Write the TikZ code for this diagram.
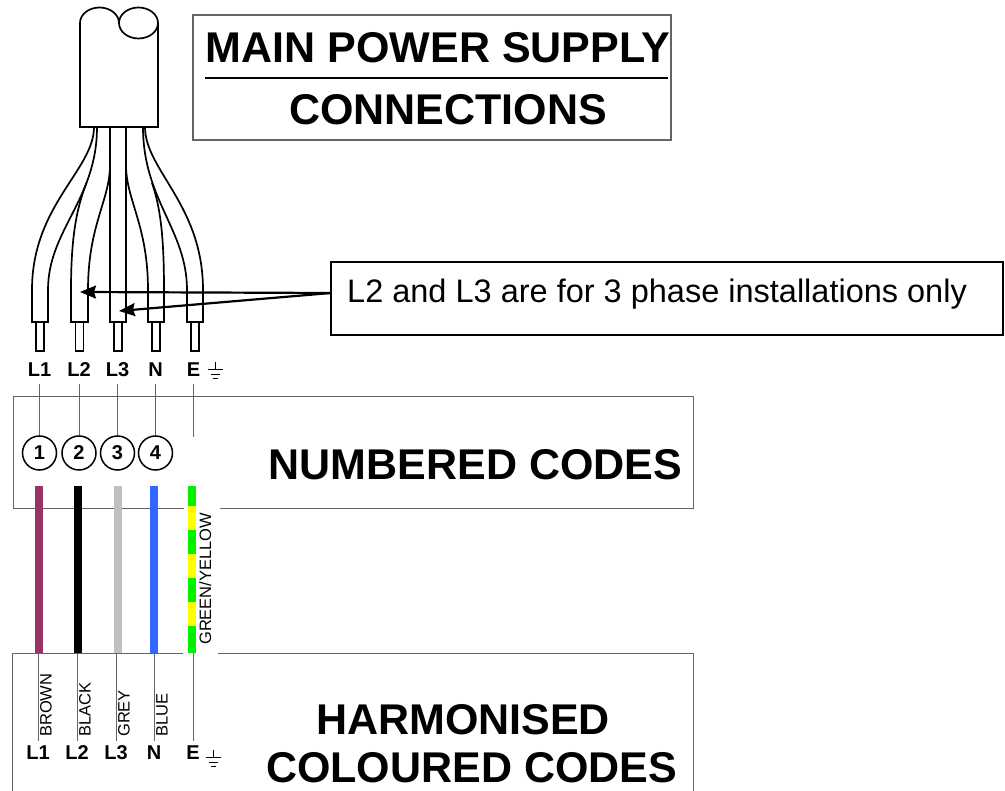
\documentclass[tikz,border=0pt]{standalone}
\usepackage{fontspec}
\setmainfont{Liberation Sans}
\usetikzlibrary{arrows.meta}

\definecolor{wirebrown}{RGB}{153,51,102}
\definecolor{wireblue}{RGB}{51,102,255}
\definecolor{wiregrey}{RGB}{192,192,192}
\definecolor{wiregreen}{RGB}{0,240,0}
\definecolor{wireyellow}{RGB}{255,255,0}
\definecolor{framegrey}{RGB}{100,100,100}

\newcommand\headfont{\fontsize{43}{43}\selectfont\bfseries}
\newcommand\termfont{\fontsize{20}{20}\selectfont\bfseries}
\newcommand\tagfont{\fontsize{16.5}{16.5}\selectfont}
\newcommand\notefont{\fontsize{32.5}{32.5}\selectfont}

\tikzset{
  cable/.style={line width=1.7pt},
  leader/.style={framegrey,line width=0.9pt},
  frameline/.style={framegrey,line width=1pt},
  pointer/.style={line width=2.2pt,-{Stealth[length=16pt,width=13pt,inset=2pt]}},
  termlabel/.style={inner sep=0pt,font=\termfont},
  headline/.style={anchor=base,inner sep=0pt,font=\headfont},
  colourtag/.style={rotate=90,anchor=north west,inner sep=0pt,font=\tagfont},
  numcircle/.style={circle,draw,line width=1.5pt,minimum size=34pt,inner sep=0pt,font=\termfont},
  earthmark/.pic={
    \draw[line width=0.9pt] (0,0) -- (0,7) (-7.5,7) -- (7.5,7)
      (-4.5,12) -- (4.5,12) (-2.5,16) -- (2.5,16);
  }
}

\begin{document}
\begin{tikzpicture}[x=1pt,y=-1pt]
       \useasboundingbox (0,0) rectangle (1005,791);
       % plug and cable
       \draw[cable] (158,23) -- (158,127) -- (80,127) -- (80,23)
         arc[start angle=180,end angle=0,x radius=19.5pt,y radius=15.5pt];
       \draw[cable] (138.5,23) ellipse[x radius=19.5pt,y radius=15.5pt];
       \draw[cable] (94,127) .. controls (94,170) and (32,205) .. (32,290)
         -- (32,322) -- (48,322) -- (48,290) .. controls (48,230) and (97,200) .. (97,127);
       \draw[cable] (86.5,183) .. controls (76,209) and (71,240) .. (71,290)
         -- (71,322) -- (88,322) -- (88,290) .. controls (88,225) and (110,200) .. (110,165);
       \draw[cable] (110,127) -- (110,322) -- (126,322) -- (126,127);
       \draw[cable] (126,165) .. controls (126,200) and (148,225) .. (148,290)
         -- (148,322) -- (164,322) -- (164,290) .. controls (164,240) and (161,209) .. (152,183);
       \draw[cable] (143,127) .. controls (143,200) and (187,230) .. (187,290)
         -- (187,322) -- (203,322) -- (203,290) .. controls (203,205) and (145,170) .. (145,127);
       \foreach \x in {40,79.5,118,156,195}
         \draw[line width=1.3pt] (\x-4,322) rectangle (\x+4,351);

       % heading
       \draw[framegrey,line width=1.5pt] (193,15) rectangle (671,140);
       \node[headline] (mainhead) at (438,63) {MAIN POWER SUPPLY};
       \node[headline] (conhead) at (448,125) {CONNECTIONS};
       \draw[line width=1.2pt] (205,78) -- (668,78);

       % note
       \draw[line width=1.8pt] (331,262) rectangle (1003,335);
       \node[anchor=base west,inner sep=0pt,font=\notefont] (notetext) at (347,303)
         {L2 and L3 are for 3 phase installations only};
       \coordinate (fork) at (331,293);
       \coordinate (l2tip) at (80,292);
       \coordinate (l3tip) at (119,311);

       % numbered codes
       \draw[frameline] (184,509) -- (13,509) -- (13,397) -- (693,397) -- (693,509) -- (220,509);
       \foreach \x/\lab/\num [count=\i] in {39.5/L1/1, 79/L2/2, 117.5/L3/3, 155.5/N/4} {
         \node[termlabel] (top\i) at (\x,370) {\lab};
         \node[numcircle] (num\i) at (\x,453) {\num};
         \draw[leader] ([yshift=-7pt]top\i.south) -- (num\i);
       }
       \node[termlabel] (top5) at (193.5,370) {E};
       \coordinate (eend) at (193.5,437);
       \draw[leader] ([yshift=-7pt]top5.south) -- (eend);
       \pic at (215,362) {earthmark};
       \node[headline] (numhead) at (475.5,480) {NUMBERED CODES};

       % coloured conductors
       \fill[wirebrown] (35,486) rectangle (43,653);
       \fill[black] (74,486) rectangle (82,653);
       \fill[wiregrey] (114,486) rectangle (122,653);
       \fill[wireblue] (150,486) rectangle (158,653);
       \fill[wiregreen] (188,486) rectangle (196,653);
       \foreach \y in {506,554,602}
         \fill[wireyellow] (188,\y) rectangle (196,\y+24);
       \node[colourtag] (gytag) at (199,645) {GREEN/YELLOW};

       % harmonised codes
       \draw[frameline] (12,791) -- (12,653) -- (183,653);
       \draw[frameline] (218,653) -- (693,653) -- (693,791);
       \foreach \x/\tag/\lab [count=\i] in {38/BROWN/L1, 77/BLACK/L2, 116/GREY/L3, 154/BLUE/N} {
         \node[termlabel] (bot\i) at (\x,753) {\lab};
         \coordinate (lead\i) at (\x,653);
         \draw[leader] (lead\i) -- ([yshift=5pt]bot\i.north);
         \node[colourtag] (tag\i) at (\x+2,737) {\tag};
       }
       \node[termlabel] (bot5) at (193,753) {E};
       \coordinate (lead5) at (193,653);
       \draw[leader] (lead5) -- ([yshift=5pt]bot5.north);
       \pic at (213,750) {earthmark};
       \node[headline] (harmhead) at (463,734) {HARMONISED};
       \node[headline] (colhead) at (471.5,782) {COLOURED CODES};

       % arrows
       \draw[pointer] (fork) -- (l2tip);
       \draw[pointer] (fork) -- (l3tip);
\end{tikzpicture}
\end{document}
